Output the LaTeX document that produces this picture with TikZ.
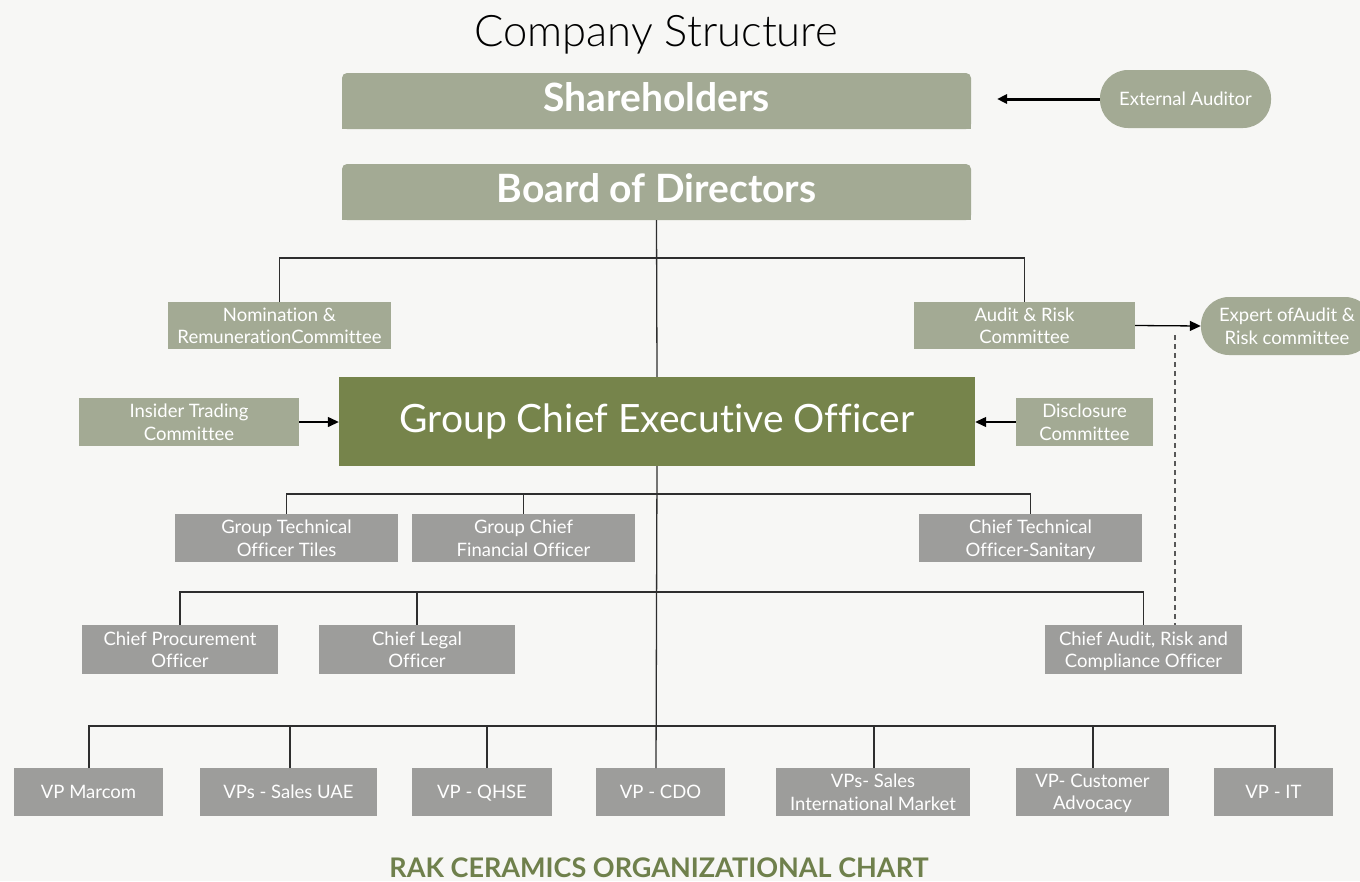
\documentclass[tikz,border=0pt]{standalone}
\usepackage{fontspec}
\setmainfont{Lato}[Ligatures={NoCommon}]
\newfontfamily\lightfont{Lato Light}[Ligatures={NoCommon}]
\usetikzlibrary{arrows.meta}
\definecolor{bgc}{HTML}{F7F7F5}
\definecolor{sage}{HTML}{A3AA94}
\definecolor{olive}{HTML}{76844B}
\definecolor{greybox}{HTML}{9D9D9B}
\definecolor{footc}{HTML}{6F804C}
\definecolor{linec}{HTML}{2E2E2E}
\tikzset{
  boxfont/.style={font=\fontsize{18.5}{22.5}\selectfont},
  sagebox/.style={fill=sage, text=white, inner sep=0pt, align=center, text depth=0pt, boxfont},
  greyboxst/.style={fill=greybox, text=white, inner sep=0pt, align=center, text depth=0pt, boxfont},
  pill/.style={fill=sage, text=white, inner sep=0pt, align=center, text depth=0pt, rounded corners=28pt, boxfont},
  oneline/.style={text height=13.5pt, text depth=0pt},
  conn/.style={draw=linec, line width=1.3pt},
  arr/.style={draw=black, line width=1.3pt, -{Triangle[length=11pt,width=10pt]}},
}
\begin{document}
\begin{tikzpicture}[x=1pt,y=-1pt]
\useasboundingbox (0,0) rectangle (1360,881);
\clip (0,0) rectangle (1360,881);
\fill[bgc] (0,0) rectangle (1360,881);

% title
\node[font=\lightfont\fontsize{43.5}{48}\selectfont, text=black] (title) at (656,35) {Company Structure};

% Shareholders and board
\fill[sage, rounded corners=5pt] (342,73) rectangle (971,129);
\fill[sage] (342,100) rectangle (971,129);
\node[minimum width=629, minimum height=56, inner sep=0pt, text=white, font=\bfseries\fontsize{39}{44}\selectfont, text height=28pt, text depth=7pt] (sh) at (656.5,101) {Shareholders};
\fill[sage, rounded corners=5pt] (342,164) rectangle (971,220);
\fill[sage] (342,190) rectangle (971,220);
\node[minimum width=629, minimum height=56, inner sep=0pt, text=white, font=\bfseries\fontsize{39}{44}\selectfont, text height=28pt, text depth=7pt] (bod) at (656.5,192) {Board of Directors};

\node[pill, oneline, minimum width=171, minimum height=58] (ext) at (1185.5,99) {External Auditor};
\coordinate (extend) at (997,99);
\draw[draw=black, line width=3pt, -{Triangle[length=10pt,width=9pt]}] (ext.west) -- (extend);

% committees
\node[sagebox, minimum width=223, minimum height=47] (nom) at (279.5,325.5) {Nomination \&\\RemunerationCommittee};
\node[sagebox, minimum width=221, minimum height=47] (arc) at (1024.5,325.5) {Audit \& Risk\\Committee};
\node[pill, minimum width=172, minimum height=58] (exp) at (1287,326) {Expert ofAudit \&\\Risk committee};
\draw[arr] (arc.east) -- (exp.west);

% CEO
\node[fill=olive, text=white, inner sep=0pt, minimum width=636, minimum height=89, font=\fontsize{39}{44}\selectfont, text height=28pt, text depth=7pt] (ceo) at (657,421.5) {Group Chief Executive Officer};
\node[sagebox, minimum width=220, minimum height=48] (ins) at (189,422) {Insider Trading\\Committee};
\node[sagebox, minimum width=137, minimum height=48] (dis) at (1084.5,422) {Disclosure\\Committee};
\draw[arr] (ins.east) -- (ins.east -| ceo.west);
\draw[arr] (dis.west) -- (dis.west -| ceo.east);

% board connectors
\coordinate (b1) at (656,258);
\draw[conn] (bod.south) -- (ceo.north);
\draw[conn] (nom.north) -- (nom.north |- b1) -- (arc.north |- b1) -- (arc.north);

% row 1
\node[greyboxst, minimum width=223, minimum height=48] (tiles) at (286.5,538) {Group Technical\\Officer Tiles};
\node[greyboxst, minimum width=223, minimum height=48] (cfo) at (523.5,538) {Group Chief\\Financial Officer};
\node[greyboxst, minimum width=223, minimum height=48] (san) at (1030.5,538) {Chief Technical\\Officer-Sanitary};
\coordinate (r1) at (656,494);
\draw[conn] (tiles.north) -- (tiles.north |- r1) -- (san.north |- r1) -- (san.north);
\draw[conn] (cfo.north) -- (cfo.north |- r1);

% row 2
\node[greyboxst, minimum width=196, minimum height=49] (proc) at (180,649.5) {Chief Procurement\\Officer};
\node[greyboxst, minimum width=196, minimum height=49] (legal) at (417,649.5) {Chief Legal\\Officer};
\node[greyboxst, minimum width=197, minimum height=49] (audit) at (1143.5,649.5) {Chief Audit, Risk and\\Compliance Officer};
\coordinate (r2) at (656,592);
\draw[conn] (proc.north) -- (proc.north |- r2) -- (audit.north |- r2) -- (audit.north);
\draw[conn] (legal.north) -- (legal.north |- r2);

% dashed
\coordinate (dtop) at (1175,335);
\draw[draw=linec!80, line width=1.3pt, dash pattern=on 5pt off 4pt] (dtop) -- (dtop |- audit.north);

% row 3
\node[greyboxst, oneline, minimum width=149, minimum height=48] (v1) at (88.5,792) {VP Marcom};
\node[greyboxst, oneline, minimum width=177, minimum height=48] (v2) at (288.5,792) {VPs - Sales UAE};
\node[greyboxst, oneline, minimum width=140, minimum height=48] (v3) at (482,792) {VP - QHSE};
\node[greyboxst, oneline, minimum width=129, minimum height=48] (v4) at (660.5,792) {VP - CDO};
\node[greyboxst, minimum width=194, minimum height=48] (v5) at (873,792) {VPs- Sales\\International Market};
\node[greyboxst, minimum width=153, minimum height=48] (v6) at (1092.5,792) {VP- Customer\\Advocacy};
\node[greyboxst, oneline, minimum width=119, minimum height=48] (v7) at (1273.5,792) {VP - IT};
\coordinate (r3) at (656,726);
\coordinate (d1) at (89,768);
\coordinate (d2) at (290,768);
\coordinate (d3) at (487,768);
\coordinate (d4) at (656,768);
\coordinate (d5) at (874,768);
\coordinate (d6) at (1093,768);
\coordinate (d7) at (1275,768);
\draw[conn] (ceo.south) -- (d4);
\draw[conn] (d1) -- (d1 |- r3) -- (d7 |- r3) -- (d7);
\foreach \d in {d2,d3,d5,d6} \draw[conn] (\d) -- (\d |- r3);

% footer
\node[font=\bfseries\fontsize{27}{30}\selectfont, text=footc] (foot) at (659,868) {RAK CERAMICS ORGANIZATIONAL CHART};
\end{tikzpicture}
\end{document}
